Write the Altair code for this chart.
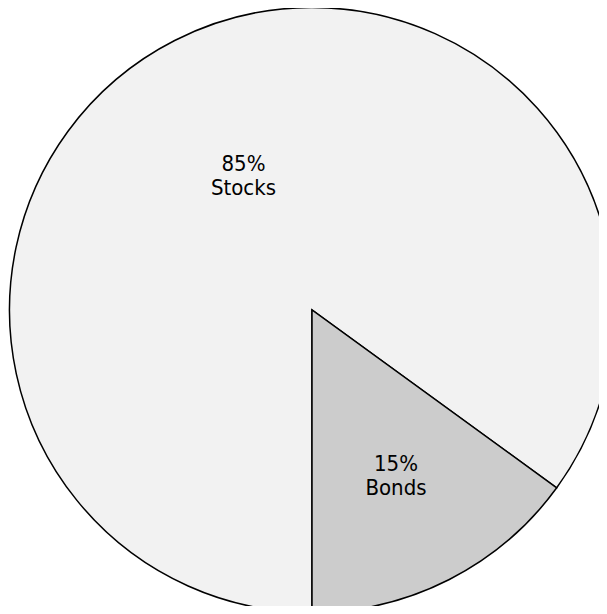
import altair as alt
import pandas as pd

categories = ["Stocks", "Bonds"]
percents = [85, 15]
colors = ["#f2f2f2", "#cccccc"]

df = pd.DataFrame({"category": categories, "percent": percents, "order": [0, 1]})

base = alt.Chart(df).transform_calculate(
    label="datum.percent + '%\\n' + datum.category"
)

theta = alt.Theta("percent:Q", stack=True, scale=alt.Scale(range=[3.14159265, 3 * 3.14159265]))
order = alt.Order("order:Q")

pie = base.mark_arc(stroke="black", strokeWidth=1.5).encode(
    theta=theta,
    order=order,
    color=alt.Color("category:N", scale=alt.Scale(domain=categories, range=colors), legend=None),
    radius=alt.value(302.5),
    x=alt.value(304),
    y=alt.value(302),
)

def label_layer(cat, r):
    return base.mark_text(
        font="DejaVu Sans Condensed", fontSize=22, lineBreak="\n", lineHeight=24,
        align="center", baseline="middle", color="black", dy=-11
    ).encode(
        theta=theta,
        order=order,
        radius=alt.value(r),
        x=alt.value(304),
        y=alt.value(302),
        text=alt.condition(alt.datum.category == cat, alt.Text("label:N"), alt.value("")),
    )

chart = alt.layer(pie, label_layer("Stocks", 151), label_layer("Bonds", 185)).properties(
    width=591, height=598, padding=0, autosize="none", background="white"
).configure_view(stroke=None)

chart.save("out.html", embed_options={"renderer": "svg", "actions": False})
